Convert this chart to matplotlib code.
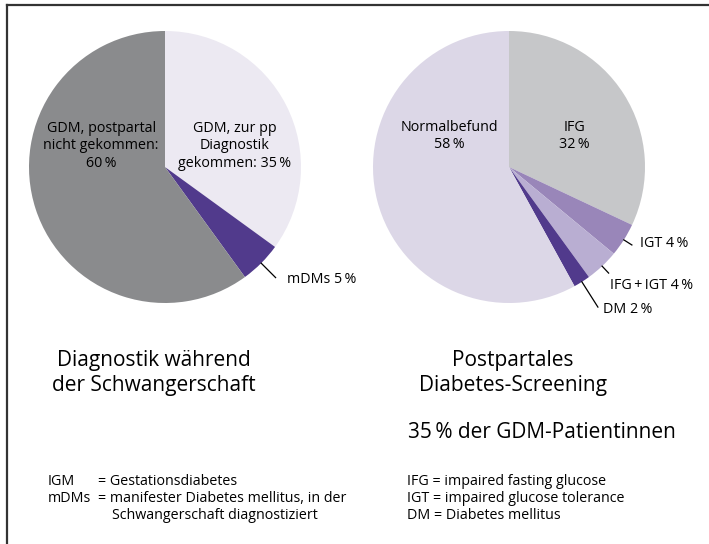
import numpy as np
import matplotlib
matplotlib.use("Agg")
import matplotlib.pyplot as plt
from matplotlib.lines import Line2D

plt.rcParams['font.family'] = ['Open Sans', 'DejaVu Sans']

T = "\u2009"  # thin space before % signs

# left pie: diagnostics during pregnancy (clockwise from 12 o'clock)
left_labels = [f"GDM, zur pp\nDiagnostik\ngekommen: 35{T}%", f"mDMs 5{T}%",
               f"GDM, postpartal\nnicht gekommen:\n60{T}%"]
left_values = [35, 5, 60]
left_colors = ["#ECE9F2", "#513A8C", "#8A8B8D"]

# right pie: postpartum screening
right_labels = [f"IFG\n32{T}%", f"IGT 4{T}%", f"IFG{T}+{T}IGT 4{T}%", f"DM 2{T}%", f"Normalbefund\n58{T}%"]
right_values = [32, 4, 4, 2, 58]
right_colors = ["#C6C7C9", "#9986B9", "#B9AED2", "#513A8C", "#DCD7E7"]

W, H = 709, 544
fig = plt.figure(figsize=(W / 100, H / 100), dpi=100)
R = 136  # pie radius in px
LBL = 10.3


def pie_axes(cx, cy, values, colors, half=210):
    # cx, cy in px from top-left
    ax = fig.add_axes([(cx - half) / W, (H - cy - half) / H, 2 * half / W, 2 * half / H])
    ax.pie(values, colors=colors, startangle=90, counterclock=False,
           radius=1, wedgeprops=dict(linewidth=0))
    lim = half / R
    ax.set_xlim(-lim, lim)
    ax.set_ylim(-lim, lim)
    ax.set_aspect('equal')
    ax.axis('off')
    return ax


def mid_angle(values, i):
    # math angle of the middle of wedge i, clockwise from 90 deg
    cum = np.cumsum([0] + list(values))
    frac = (cum[i] + cum[i + 1]) / 2 / cum[-1]
    return np.deg2rad(90 - 360 * frac)


def leader(ax, values, i, r_end, text, tx, ty):
    a = mid_angle(values, i)
    ax.plot([np.cos(a), r_end * np.cos(a)], [np.sin(a), r_end * np.sin(a)],
            color="black", lw=0.9, clip_on=False)
    ax.text(tx, ty, text, ha="left", va="center", fontsize=LBL, clip_on=False)


# left pie
axl = pie_axes(165, 167, left_values, left_colors)
axl.text(0.515, 0.155, left_labels[0], ha="center", va="center", fontsize=LBL, linespacing=1.2)
axl.text(-0.47, 0.155, left_labels[2], ha="center", va="center", fontsize=LBL, linespacing=1.2)
leader(axl, left_values, 1, 1.15, left_labels[1], 0.9, -0.83)

# right pie
axr = pie_axes(509, 167, right_values, right_colors)
axr.text(0.48, 0.23, right_labels[0], ha="center", va="center", fontsize=LBL, linespacing=1.2)
axr.text(-0.44, 0.23, right_labels[4], ha="center", va="center", fontsize=LBL, linespacing=1.2)
leader(axr, right_values, 1, 1.07, right_labels[1], 0.96, -0.56)
leader(axr, right_values, 2, 1.07, right_labels[2], 0.74, -0.87)
leader(axr, right_values, 3, 1.22, right_labels[3], 0.69, -1.05)


def ftext(x, y, s, **kw):
    # x, y in px from top-left (y = baseline)
    fig.text(x / W, 1 - y / H, s, va="baseline", **kw)


# titles
ftext(154, 366, "Diagnostik während", ha="center", fontsize=15)
ftext(154, 391, "der Schwangerschaft", ha="center", fontsize=15)
ftext(513, 366, "Postpartales", ha="center", fontsize=15)
ftext(513, 391, "Diabetes-Screening", ha="center", fontsize=15)
ftext(408, 438, f"35{T}% der GDM-Patientinnen", ha="left", fontsize=15)

# footnotes
FN = 10.3
ftext(48, 485, "IGM", fontsize=FN)
ftext(98, 485, "= Gestationsdiabetes", fontsize=FN)
ftext(48, 502, "mDMs", fontsize=FN)
ftext(98, 502, "= manifester Diabetes mellitus, in der", fontsize=FN)
ftext(112, 519, "Schwangerschaft diagnostiziert", fontsize=FN)
ftext(407, 485, "IFG = impaired fasting glucose", fontsize=FN)
ftext(407, 502, "IGT = impaired glucose tolerance", fontsize=FN)
ftext(407, 519, "DM = Diabetes mellitus", fontsize=FN)

# frame: top and left border
fig.add_artist(Line2D([7.5 / W, 1], [1 - 4.5 / H, 1 - 4.5 / H], transform=fig.transFigure,
                      color="#333333", lw=1.6))
fig.add_artist(Line2D([7.5 / W, 7.5 / W], [0, 1 - 4.5 / H], transform=fig.transFigure,
                      color="#333333", lw=1.6))

fig.savefig("out.png", dpi=100)
